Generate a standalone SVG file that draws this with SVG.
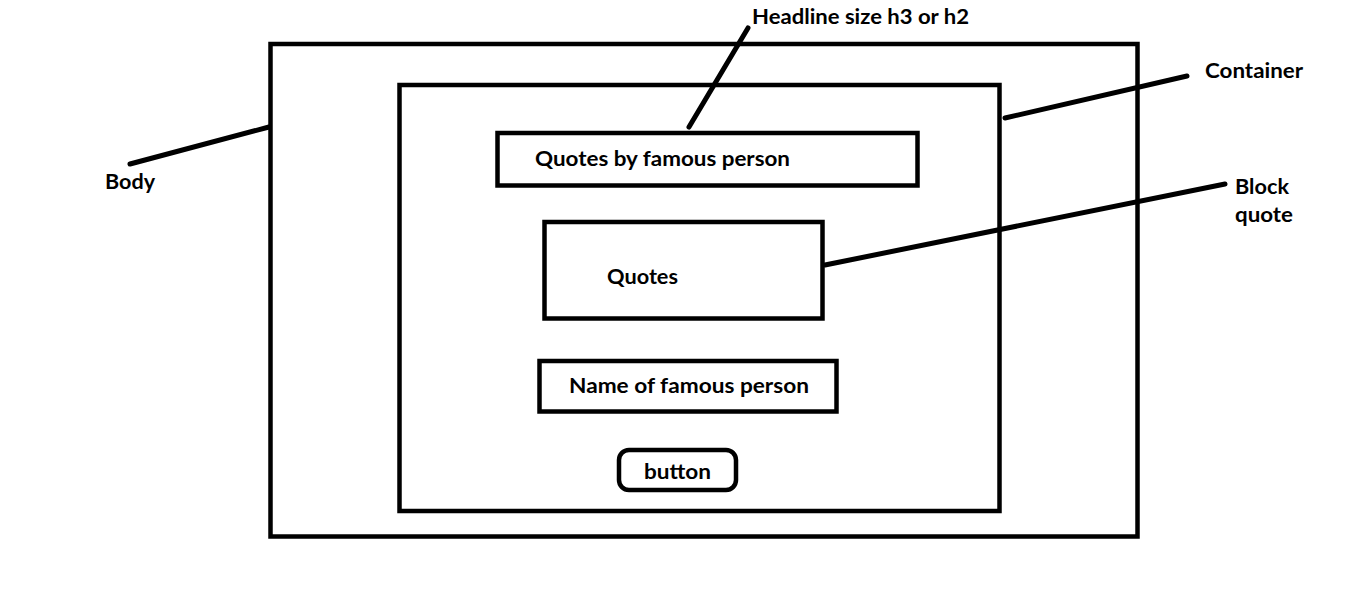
<svg xmlns="http://www.w3.org/2000/svg" width="1360" height="597" viewBox="0 0 1360 597">
  <style>
    .box { fill: none; stroke: #000; stroke-width: 4.5; }
    .lead { stroke: #000; stroke-width: 5; stroke-linecap: round; fill: none; }
    .lbl { font-family: Lato, "Liberation Sans", sans-serif; font-weight: bold; font-size: 20.5px; fill: #000; }
  </style>
  <rect width="1360" height="597" fill="#fff"/>

  <g id="body">
    <rect class="box" x="270.5" y="44" width="867" height="492.5"/>
    <text class="lbl" x="105" y="189" textLength="50" lengthAdjust="spacingAndGlyphs">Body</text>
  </g>

  <g id="container">
    <rect class="box" x="399.5" y="85" width="600" height="426"/>
    <text class="lbl" x="1205" y="78" textLength="98" lengthAdjust="spacingAndGlyphs">Container</text>
  </g>

  <g id="headline">
    <rect class="box" x="497.5" y="133" width="420" height="52.5"/>
    <text class="lbl" x="535" y="166" textLength="255" lengthAdjust="spacingAndGlyphs">Quotes by famous person</text>
  </g>

  <g id="headline-note">
    <text class="lbl" x="752" y="24" textLength="217" lengthAdjust="spacingAndGlyphs">Headline size h3 or h2</text>
  </g>

  <g id="blockquote">
    <rect class="box" x="544.5" y="222" width="278" height="96.5"/>
    <text class="lbl" x="607" y="284" textLength="71" lengthAdjust="spacingAndGlyphs">Quotes</text>
  </g>

  <g id="blockquote-note">
    <text class="lbl" x="1235" y="194" textLength="54" lengthAdjust="spacingAndGlyphs">Block</text>
    <text class="lbl" x="1235" y="222" textLength="58" lengthAdjust="spacingAndGlyphs">quote</text>
  </g>

  <g id="author">
    <rect class="box" x="539.5" y="361" width="297" height="50.5"/>
    <text class="lbl" x="569" y="393" textLength="240" lengthAdjust="spacingAndGlyphs">Name of famous person</text>
  </g>

  <g id="button">
    <rect class="box" x="619" y="450" width="117" height="40" rx="10" ry="10"/>
    <text class="lbl" x="644" y="479" textLength="67" lengthAdjust="spacingAndGlyphs">button</text>
  </g>

  <g id="connectors">
    <line class="lead" x1="130" y1="164" x2="269" y2="127"/>
    <line class="lead" x1="1005" y1="118" x2="1187" y2="76"/>
    <line class="lead" x1="689" y1="127" x2="748" y2="28"/>
    <line class="lead" x1="825" y1="265" x2="1225" y2="184"/>
  </g>
</svg>
